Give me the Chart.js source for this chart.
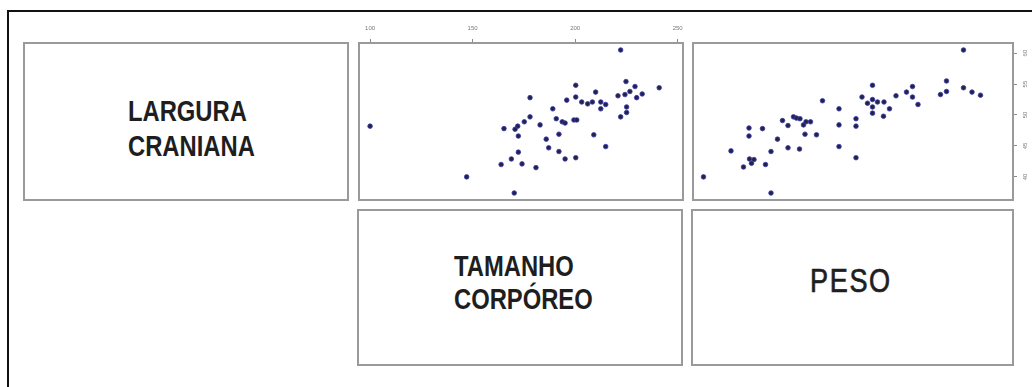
<!DOCTYPE html>
<html lang="pt">
<head>
<meta charset="utf-8">
<title>Matriz de dispersão</title>
<script src="https://cdn.jsdelivr.net/npm/chart.js@4.4.1/dist/chart.umd.min.js"></script>
<style>
  html, body { margin: 0; padding: 0; background: #ffffff; }
  #fig { position: relative; width: 1032px; height: 387px; overflow: hidden; background: #fff; }
  .frame-left { position: absolute; left: 7px; top: 10px; width: 2px; height: 377px; background: #111; }
  .frame-top { position: absolute; left: 7px; top: 10px; width: 1025px; height: 2px; background: #111; }
  .box { position: absolute; box-sizing: border-box; border: 2px solid #9a9a9a; background: #fff; }
  .lbl { position: absolute; white-space: nowrap; color: #1e1e1e; font-family: "Liberation Sans", Arial, sans-serif;
         line-height: 1; transform-origin: 0 0; }
  .bold { font-weight: bold; font-size: 29px; transform: scaleX(0.82); }
  .peso { font-weight: normal; font-size: 33px; letter-spacing: 2px; transform: scaleX(0.82);
          -webkit-text-stroke: 0.7px #1e1e1e; }
  canvas { position: absolute; }
</style>
</head>
<body>
<div id="fig">
  <div class="frame-left"></div>
  <div class="frame-top"></div>

  <div class="box" style="left:23px; top:42px; width:326px; height:159px;"></div>
  <div class="lbl bold" style="left:128px; top:97px;">LARGURA</div>
  <div class="lbl bold" style="left:128px; top:132px;">CRANIANA</div>

  <div class="box" style="left:357px; top:209px; width:326px; height:157px;"></div>
  <div class="lbl bold" style="left:454px; top:252px;">TAMANHO</div>
  <div class="lbl bold" style="left:454px; top:285px;">CORPÓREO</div>

  <div class="box" style="left:691px; top:209px; width:323px; height:157px;"></div>
  <div class="lbl peso" style="left:810px; top:264px;">PESO</div>

  <canvas id="c2" width="340" height="196" style="left:350px; top:14px; width:340px; height:196px;"></canvas>
  <canvas id="c3" width="347" height="175" style="left:685px; top:35px; width:347px; height:175px;"></canvas>
</div>

<script>
// Tamanho corpóreo (x) vs largura craniana (y)
const tamanho = [222.2, 100.0, 147.1, 170.3, 178.0, 200.3, 210.0, 224.8, 229.2, 241.0,
                 232.7, 230.0, 226.7, 224.3, 220.9, 225.1, 225.1, 222.2, 195.9, 200.3,
                 203.2, 206.1, 208.4, 212.5, 214.9, 212.5, 189.1, 190.8, 193.7, 195.1,
                 199.4, 200.8, 182.9, 178.0, 175.2, 172.0, 170.7, 165.3, 172.3, 192.1,
                 185.9, 209.1, 214.9, 187.1, 192.1, 172.3, 168.9, 195.1, 200.3, 163.9,
                 174.1, 180.9];
const larguraT = [60.5, 48.2, 40.0, 37.4, 52.8, 54.8, 53.7, 55.4, 54.6, 54.4,
                  53.4, 52.8, 53.8, 53.3, 53.1, 51.3, 50.4, 49.7, 52.4, 52.9,
                  52.1, 51.8, 52.1, 52.1, 51.7, 51.0, 51.0, 49.4, 48.9, 48.7,
                  49.2, 49.2, 48.4, 49.7, 48.9, 48.2, 47.7, 47.8, 46.6, 46.9,
                  46.1, 46.8, 44.9, 44.7, 44.1, 44.0, 42.9, 42.9, 43.1, 42.0,
                  42.1, 41.5];

// Peso (x) vs largura craniana (y)
const peso = [7.41, 2.21, 3.56, 2.76, 3.01, 3.13, 3.17, 3.22, 3.45, 3.56,
              3.12, 3.12, 3.39, 3.69, 3.90, 4.13, 3.79, 3.90, 4.01, 4.07,
              4.14, 4.21, 4.26, 4.35, 4.24, 4.47, 4.59, 4.92, 4.92, 4.92,
              5.26, 5.26, 5.26, 5.38, 5.49, 5.59, 5.59, 5.59, 5.59, 5.69,
              5.82, 5.93, 5.81, 6.06, 6.27, 6.39, 6.39, 6.50, 6.95, 7.07,
              7.07, 7.41, 7.58, 7.75];
const larguraP = [60.5, 40.0, 37.4, 44.2, 41.6, 42.9, 42.2, 42.8, 42.0, 44.1,
                  47.9, 46.6, 47.8, 46.1, 44.7, 44.5, 49.1, 48.3, 49.7, 49.5,
                  49.4, 48.4, 48.9, 48.9, 46.9, 46.8, 52.3, 51.0, 48.4, 44.9,
                  49.4, 48.2, 43.1, 52.9, 51.9, 54.8, 52.5, 51.3, 50.3, 52.1,
                  52.1, 51.0, 49.8, 53.1, 53.7, 54.6, 52.9, 51.7, 53.3, 53.8,
                  55.5, 54.4, 53.7, 53.2];

// Axis ticks
const tamanhoTicks = [100, 150, 200, 250];
const larguraTicks = [40, 45, 50, 55, 60];

// Axis ranges
const tamanhoRange = [94.6, 252.6];
const pesoRange = [2.0, 8.4];
const larguraRange = [36.27, 61.63];

const pairs = (xs, ys) => xs.map((x, i) => ({ x: x, y: ys[i] }));

const pointStyle = {
  pointRadius: 2.3,
  pointBackgroundColor: '#232348',
  pointBorderColor: '#3a3ab0',
  pointBorderWidth: 0.8,
  pointHoverRadius: 2.3,
  showLine: false
};

// Draws the panel frame around the plotting area
const panelFrame = {
  id: 'panelFrame',
  afterDraw(chart) {
    const a = chart.chartArea, ctx = chart.ctx;
    ctx.save();
    ctx.strokeStyle = '#9a9a9a';
    ctx.lineWidth = 2;
    ctx.strokeRect(a.left, a.top, a.right - a.left, a.bottom - a.top);
    ctx.restore();
  }
};

// Vertical tick labels for the right-hand axis
const rotatedYLabels = {
  id: 'rotatedYLabels',
  afterDraw(chart) {
    const s = chart.scales.y, ctx = chart.ctx;
    ctx.save();
    ctx.fillStyle = '#7a7a7a';
    ctx.font = '6px "Liberation Sans", Arial, sans-serif';
    ctx.textAlign = 'center';
    ctx.textBaseline = 'middle';
    larguraTicks.forEach(v => {
      const y = s.getPixelForValue(v);
      ctx.save();
      ctx.translate(s.left + 12, y);
      ctx.rotate(-Math.PI / 2);
      ctx.fillText(String(v), 0, 0);
      ctx.restore();
    });
    ctx.restore();
  }
};

const fixedTicks = (values) => (scale) => { scale.ticks = values.map(v => ({ value: v })); };

new Chart(document.getElementById('c2'), {
  type: 'scatter',
  data: { datasets: [Object.assign({ data: pairs(tamanho, larguraT) }, pointStyle)] },
  options: {
    responsive: false,
    animation: false,
    events: [],
    layout: { padding: { left: 9, right: 7, bottom: 10, top: 0 } },
    plugins: { legend: { display: false }, tooltip: { enabled: false } },
    scales: {
      x: {
        type: 'linear',
        position: 'top',
        min: tamanhoRange[0], max: tamanhoRange[1],
        afterBuildTicks: fixedTicks(tamanhoTicks),
        afterFit: (scale) => { scale.height = 29; },
        grid: { drawOnChartArea: false, drawTicks: true, tickLength: 4, color: '#8a8a8a', lineWidth: 1 },
        border: { display: false },
        ticks: { color: '#7a7a7a', font: { size: 6, family: '"Liberation Sans", Arial, sans-serif' }, padding: 7, maxRotation: 0, autoSkip: false }
      },
      y: {
        type: 'linear',
        display: false,
        min: larguraRange[0], max: larguraRange[1]
      }
    }
  },
  plugins: [panelFrame]
});

new Chart(document.getElementById('c3'), {
  type: 'scatter',
  data: { datasets: [Object.assign({ data: pairs(peso, larguraP) }, pointStyle)] },
  options: {
    responsive: false,
    animation: false,
    events: [],
    layout: { padding: { left: 8, right: 0, bottom: 10, top: 8 } },
    plugins: { legend: { display: false }, tooltip: { enabled: false } },
    scales: {
      x: {
        type: 'linear',
        display: false,
        min: pesoRange[0], max: pesoRange[1]
      },
      y: {
        type: 'linear',
        position: 'right',
        min: larguraRange[0], max: larguraRange[1],
        afterBuildTicks: fixedTicks(larguraTicks),
        afterFit: (scale) => { scale.width = 19; },
        grid: { drawOnChartArea: false, drawTicks: true, tickLength: 4, color: '#8a8a8a', lineWidth: 1 },
        border: { display: false },
        ticks: { display: false }
      }
    }
  },
  plugins: [panelFrame, rotatedYLabels]
});
</script>
</body>
</html>
